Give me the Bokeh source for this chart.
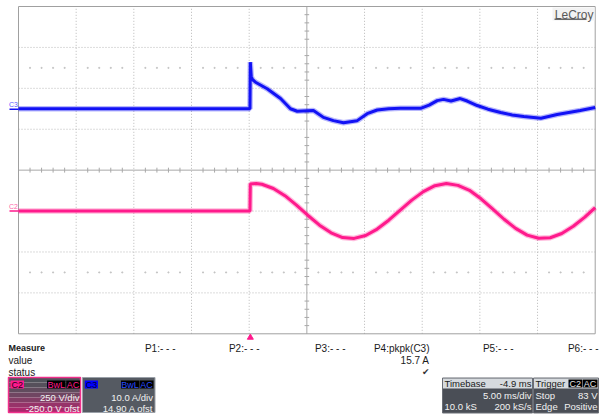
import numpy as np
from bokeh.plotting import figure
from bokeh.models import Range1d, Label
from bokeh.layouts import column
from bokeh.embed import file_html
from bokeh.resources import INLINE
from bokeh.core.properties import value

# ---------------- data ----------------
# C3: current in A, 10.0 A/div, offset 14.90 A
c3_time_ms = [-20.1, -0.03, 0.0, 0.08, 0.2, 0.45, 1.46, 2.62, 3.48, 4.06, 5.47, 6.34,
              7.2, 8.08, 9.27, 10.13, 11.0, 12.0, 13.0, 14.76, 15.5, 16.2, 16.75, 17.4,
              18.2, 18.8, 19.67, 20.6, 21.7, 22.7, 23.7, 25.2, 26.6, 27.6, 28.6, 29.9]
c3_amps = [0.1, 0.1, 11.5, 8.0, 7.2, 6.6, 5.0, 2.6, 0.1, -0.5, -0.3, -2.0,
           -2.8, -3.3, -2.8, -1.1, -0.2, 0.1, 0.2, 0.2, 1.0, 2.1, 2.4, 2.0,
           2.6, 2.0, 0.9, 0.0, -0.8, -1.4, -1.8, -2.2, -1.3, -0.8, -0.3, 0.4]

# C2: voltage in V, 250 V/div, offset -250.0 V
c2_time_ms = [-20.1, -0.03, 0.0, 0.5, 1, 2, 3, 4, 5, 6, 7, 8, 9, 10, 11, 12, 13, 14, 15,
              16, 17, 18, 19, 20, 21, 22, 23, 24, 25, 26, 27, 28, 29, 29.9]
c2_volts = [0, 0, 166, 168, 164, 138, 94, 36, -27, -86, -133, -162, -167, -149, -110,
            -56, 6, 67, 119, 155, 168, 157, 127, 75, 13, -50, -106, -147, -166, -163,
            -137, -93, -37, 21]

# scope settings
c2_volts_per_div, c2_offset = 250.0, -250.0
c3_amps_per_div, c3_offset = 10.0, 14.90
time_left_ms, ms_per_div = -20.1, 5.0

measure_labels = ["P1:- - -", "P2:- - -", "P3:- - -", "P4:pkpk(C3)", "P5:- - -", "P6:- - -"]
p4_value = "15.7 A"

FONT_NAME = "Liberation Sans"
FONT = value(FONT_NAME)

# ---------------- scope screen ----------------
W, H = 601, 341
GL, GR, GT, GB = 18.0, 594.7, 6.0, 333.3          # grid box in screen px
px_per_ms = (GR - GL) / (10 * ms_per_div)
px_per_div = (GB - GT) / 8.0
t_right = time_left_ms + 10 * ms_per_div
t_center = time_left_ms + 5 * ms_per_div
x_start = time_left_ms - GL / px_per_ms
x_end = t_right + (W - GR) / px_per_ms
y_top = 4.0 + GT / px_per_div
y_bottom = -4.0 - (H - GB) / px_per_div

p = figure(width=W, height=H, x_range=Range1d(x_start, x_end),
           y_range=Range1d(y_bottom, y_top), x_axis_type=None, y_axis_type=None,
           toolbar_location=None, output_backend="svg", min_border_left=0,
           min_border_right=0, min_border_top=0, min_border_bottom=0,
           outline_line_color=None, background_fill_color="white",
           border_fill_color="white")

p.extra_y_ranges = {
    "c2": Range1d(y_bottom * c2_volts_per_div - c2_offset, y_top * c2_volts_per_div - c2_offset),
    "c3": Range1d(y_bottom * c3_amps_per_div - c3_offset, y_top * c3_amps_per_div - c3_offset),
}

grid_t = [time_left_ms + k * ms_per_div for k in range(1, 10) if k != 5]
grid_d = [d for d in range(-3, 4) if d != 0]
gcol = "#b8b8b8"
p.segment(x0=grid_t, y0=-4, x1=grid_t, y1=4, line_color=gcol, line_dash="1 2", line_width=1)
p.segment(x0=time_left_ms, y0=grid_d, x1=t_right, y1=grid_d, line_color=gcol,
          line_dash="1 2", line_width=1)
# center cross with sub-division ticks
p.segment(x0=[t_center, time_left_ms], y0=[-4, 0], x1=[t_center, t_right], y1=[4, 0],
          line_color="#a8a8a8", line_width=1)
sub_t = [time_left_ms + k * ms_per_div / 5 for k in range(1, 50) if k % 5 != 0]
p.segment(x0=sub_t, y0=-0.06, x1=sub_t, y1=0.06, line_color="#a8a8a8", line_width=1)
sub_d = [-4 + k * 0.2 for k in range(1, 40) if k % 5 != 0]
p.segment(x0=t_center - 0.2, y0=sub_d, x1=t_center + 0.2, y1=sub_d, line_color="#a8a8a8",
          line_width=1)
# faint dot rows
for yy in (2.5, -2.5):
    p.scatter(x=sub_t, y=[yy] * len(sub_t), marker="square", size=1, color="#c4c4c4")
# border
p.quad(left=time_left_ms, right=t_right, bottom=-4, top=4, fill_color=None,
       line_color="#a0a0a0", line_width=1)

# traces
BLUE, PINK = "#1212f5", "#ff1a8c"
p.line(c3_time_ms, c3_amps, y_range_name="c3", line_color=BLUE, line_width=5.5, line_alpha=0.3)
p.line(c3_time_ms, c3_amps, y_range_name="c3", line_color=BLUE, line_width=3)
p.line(c2_time_ms, c2_volts, y_range_name="c2", line_color=PINK, line_width=5.5, line_alpha=0.3)
p.line(c2_time_ms, c2_volts, y_range_name="c2", line_color=PINK, line_width=3)

# channel markers
mk0 = x_start + 9 / px_per_ms
p.segment(x0=mk0, y0=0, x1=time_left_ms, y1=0, y_range_name="c3", line_color=BLUE, line_width=1.5)
p.segment(x0=mk0, y0=0, x1=time_left_ms, y1=0, y_range_name="c2", line_color=PINK, line_width=1.5)
p.text(x=[x_start + 8.5 / px_per_ms], y=[0], text=["C3"], y_range_name="c3", text_color="#5a5aff",
       text_font=FONT, text_font_size="7px", text_baseline="bottom", y_offset=-1.5)
p.text(x=[x_start + 8.5 / px_per_ms], y=[0], text=["C2"], y_range_name="c2", text_color="#ff64aa",
       text_font=FONT, text_font_size="7px", text_baseline="bottom", y_offset=-1.5)

# trigger marker (below the grid at t = 0)
p.scatter(x=[0.0], y=[-4.0 - 3.7 / px_per_div], marker="triangle", size=6, color=PINK)

# LeCroy logo
p.quad(left=x_start + 552 / px_per_ms, right=x_start + 594 / px_per_ms,
       top=y_top - 7 / px_per_div, bottom=y_top - 20 / px_per_div,
       fill_color="#f3f3f3", line_color=None)
p.add_layout(Label(x=W - 8, y=H - 7.5, x_units="screen", y_units="screen", text="LeCroy",
                   text_align="right", text_baseline="top", text_font=FONT_NAME,
                   text_font_size="12px", text_color="#5a5a5a"))
p.segment(x0=x_start + 554 / px_per_ms, y0=y_top - 18.8 / px_per_div,
          x1=x_start + 586 / px_per_ms, y1=y_top - 18.8 / px_per_div,
          line_color="#6a6a6a", line_width=1.5)

# ---------------- info panel ----------------
PW, PH = 601, 73
q = figure(width=PW, height=PH, x_range=Range1d(0, PW), y_range=Range1d(PH, 0),
           x_axis_type=None, y_axis_type=None, toolbar_location=None, output_backend="svg",
           min_border_left=0, min_border_right=0, min_border_top=0, min_border_bottom=0,
           outline_line_color=None, background_fill_color="white", border_fill_color="white")

TXT = "#1a1a1a"
q.text(x=[8], y=[6.5], text=["Measure"], text_font=FONT, text_font_size="9px",
       text_font_style="bold", text_baseline="middle", text_color=TXT)
q.text(x=[8, 8], y=[18.5, 30.5], text=["value", "status"], text_font=FONT,
       text_font_size="10px", text_baseline="middle", text_color=TXT)
q.text(x=[175, 259, 345, 429, 513, 598], y=[6.5] * 6, text=measure_labels, text_font=FONT,
       text_font_size="10px", text_align="right", text_baseline="middle", text_color=TXT)
q.text(x=[429], y=[18.5], text=[p4_value], text_font=FONT, text_font_size="10px",
       text_align="right", text_baseline="middle", text_color=TXT)
q.text(x=[429], y=[30.5], text=["\u2714"], text_font=value("DejaVu Sans"), text_font_size="9px",
       text_align="right", text_baseline="middle", text_color="#333333")

BT, BB = 36, 71
ROW2, ROW3 = 56, 66.5
# C2 box with gradient
grad = ["#4f525a", "#56505b", "#614c5e", "#704662", "#833e66", "#973369", "#aa286c"]
n = len(grad)
for i, c in enumerate(grad):
    q.quad(left=8, right=80, top=BT + i * (BB - BT) / n, bottom=BT + (i + 1) * (BB - BT) / n,
           fill_color=c, line_color=None)
q.quad(left=8, right=80, top=BT, bottom=BB, fill_color=None, line_color="#f0308c", line_width=1.5)
# C3 box
q.quad(left=82, right=154.5, top=BT, bottom=BB, fill_color="#555a62", line_color="#9aa0a8",
       line_width=1)


def chip(l, r, fill, txt, tcol):
    q.quad(left=l, right=r, top=BT + 3, bottom=BT + 11, fill_color=fill, line_color=None)
    q.text(x=[(l + r) / 2], y=[BT + 7.2], text=[txt], text_font=FONT, text_font_size="9px",
           text_align="center", text_baseline="middle", text_color=tcol)


chip(10, 23.5, PINK, "C2", "#2a0018")
chip(46.5, 65, "#000000", "BwL", PINK)
chip(65.7, 79.5, "#000000", "AC", PINK)
chip(84.3, 97.5, "#0000ff", "C3", "#000030")
chip(120.5, 138.5, "#000000", "BwL", "#2a4cff")
chip(139, 153, "#000000", "AC", "#2a4cff")

WH = "#f2f2f2"
q.text(x=[79, 79], y=[ROW2, ROW3], text=["250 V/div", "-250.0 V ofst"], text_font=FONT,
       text_font_size="9.5px", text_align="right", text_baseline="middle", text_color=WH)
q.text(x=[153, 153], y=[ROW2, ROW3], text=["10.0 A/div", "14.90 A ofst"], text_font=FONT,
       text_font_size="9.5px", text_align="right", text_baseline="middle", text_color=WH)

# Timebase box
TB2, TB3 = 54, 64.5
q.quad(left=442, right=532, top=BT + 0.5, bottom=BB + 0.5, fill_color="#4a4e56",
       line_color="#6a6e76")
q.quad(left=442.5, right=531.5, top=BT + 1, bottom=BT + 11, fill_color="#d6dade",
       line_color=None)
q.text(x=[444], y=[BT + 6], text=["Timebase"], text_font=FONT, text_font_size="9.5px",
       text_baseline="middle", text_color=TXT)
q.text(x=[531], y=[BT + 6], text=["-4.9 ms"], text_font=FONT, text_font_size="9.5px",
       text_align="right", text_baseline="middle", text_color=TXT)
q.text(x=[531, 531], y=[TB2, TB3], text=["5.00 ms/div", "200 kS/s"], text_font=FONT,
       text_font_size="9.5px", text_align="right", text_baseline="middle", text_color=WH)
q.text(x=[444], y=[TB3], text=["10.0 kS"], text_font=FONT, text_font_size="9.5px",
       text_baseline="middle", text_color=WH)

# Trigger box
q.quad(left=533, right=598, top=BT + 0.5, bottom=BB + 0.5, fill_color="#4a4e56",
       line_color="#6a6e76")
q.quad(left=533.5, right=597.5, top=BT + 1, bottom=BT + 11, fill_color="#d6dade",
       line_color=None)
q.text(x=[535], y=[BT + 6], text=["Trigger"], text_font=FONT, text_font_size="9.5px",
       text_baseline="middle", text_color=TXT)
q.quad(left=568, right=581.5, top=BT + 2, bottom=BT + 10, fill_color="#000000", line_color=None)
q.quad(left=582, right=597, top=BT + 2, bottom=BT + 10, fill_color="#000000", line_color=None)
q.text(x=[574.7, 589.5], y=[BT + 6, BT + 6], text=["C2", "AC"], text_font=FONT,
       text_font_size="9px", text_align="center", text_baseline="middle",
       text_color="#e0e0e0")
q.text(x=[535, 535], y=[TB2, TB3], text=["Stop", "Edge"], text_font=FONT,
       text_font_size="9.5px", text_baseline="middle", text_color=WH)
q.text(x=[597, 597], y=[TB2, TB3], text=["83 V", "Positive"], text_font=FONT,
       text_font_size="9.5px", text_align="right", text_baseline="middle", text_color=WH)

layout = column(p, q, spacing=0)
open("out.html", "w").write(file_html(layout, INLINE))
